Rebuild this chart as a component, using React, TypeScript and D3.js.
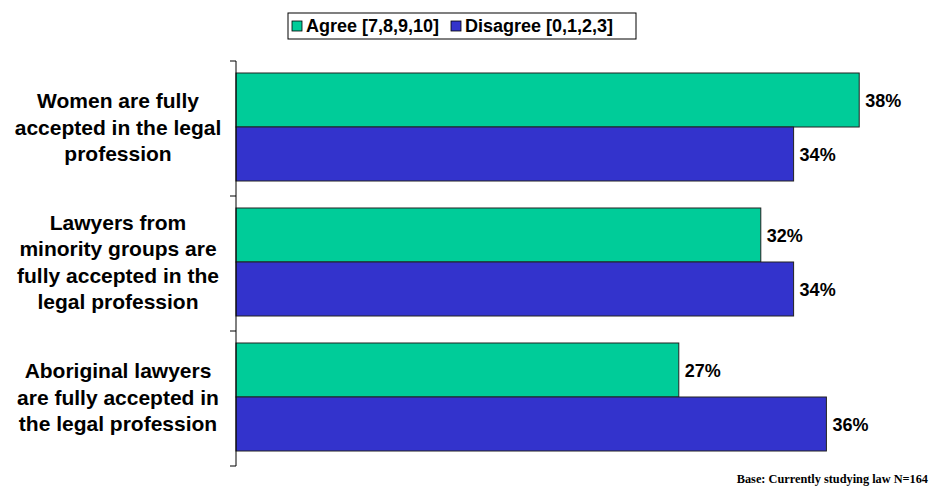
import React from "react";
import * as d3 from "d3";

const categories: string[][] = [
  ["Women are fully", "accepted in the legal", "profession"],
  ["Lawyers from", "minority groups are", "fully accepted in the", "legal profession"],
  ["Aboriginal lawyers", "are fully accepted in", "the legal profession"],
];
const seriesNames = ["Agree [7,8,9,10]", "Disagree [0,1,2,3]"];
const agree = [38, 32, 27];
const disagree = [34, 34, 36];
const colors = ["#00CC99", "#3333CC"];
const baseNote = "Base: Currently studying law N=164";

const W = 932;
const H = 487;

export default function App() {
  const x = d3.scaleLinear().domain([0, 40]).range([236, 892]);
  const y = d3
    .scaleBand<number>()
    .domain(d3.range(categories.length))
    .range([61, 466]);
  const band = y.step();
  const ticks = d3.range(categories.length + 1).map((i) => 61 + i * band);
  const series = [agree, disagree];
  const barH = 54;

  return (
    <svg
      width={W}
      height={H}
      style={{ position: "absolute", left: 0, top: 0, background: "#fff" }}
      fontFamily="Arial, 'Liberation Sans', sans-serif"
    >
      {/* legend */}
      <rect x={288} y={13} width={348} height={26} fill="#fff" stroke="#000" strokeWidth={1} />
      {seriesNames.map((n, i) => {
        const lx = i === 0 ? 292 : 451;
        return (
          <g key={n}>
            <rect x={lx} y={21} width={10} height={10} fill={colors[i]} stroke="#000" strokeWidth={0.8} />
            <text x={lx + 14} y={32} fontSize={18} fontWeight="bold" fill="#000">
              {n}
            </text>
          </g>
        );
      })}

      {/* bars */}
      {categories.map((c, ci) => {
        const center = (y(ci) as number) + band / 2 - 1.5;
        return (
          <g key={ci}>
            {series.map((s, si) => {
              const by = center - barH + si * barH;
              return (
                <g key={si}>
                  <rect
                    x={x(0)}
                    y={by}
                    width={x(s[ci]) - x(0)}
                    height={barH}
                    fill={colors[si]}
                    stroke="#222"
                    strokeWidth={1}
                  />
                  <text
                    x={x(s[ci]) + 6}
                    y={by + barH / 2 + 7}
                    fontSize={18}
                    fontWeight="bold"
                    fill="#000"
                  >
                    {s[ci]}%
                  </text>
                </g>
              );
            })}
            {c.map((line, li) => (
              <text
                key={li}
                x={118}
                y={center + (li - (c.length - 1) / 2) * 26.5 + 7.5}
                textAnchor="middle"
                fontSize={21}
                fontWeight="bold"
                fill="#000"
              >
                {line}
              </text>
            ))}
          </g>
        );
      })}

      {/* axis */}
      <line x1={236} x2={236} y1={61} y2={466} stroke="#000" strokeWidth={1} />
      {ticks.map((t, i) => (
        <line key={i} x1={230} x2={236} y1={t} y2={t} stroke="#000" strokeWidth={1} />
      ))}

      <text
        x={928}
        y={483}
        textAnchor="end"
        fontSize={12.3}
        fontWeight="bold"
        fontFamily="'Liberation Serif', 'Times New Roman', serif"
        fill="#000"
      >
        {baseNote}
      </text>
    </svg>
  );
}
